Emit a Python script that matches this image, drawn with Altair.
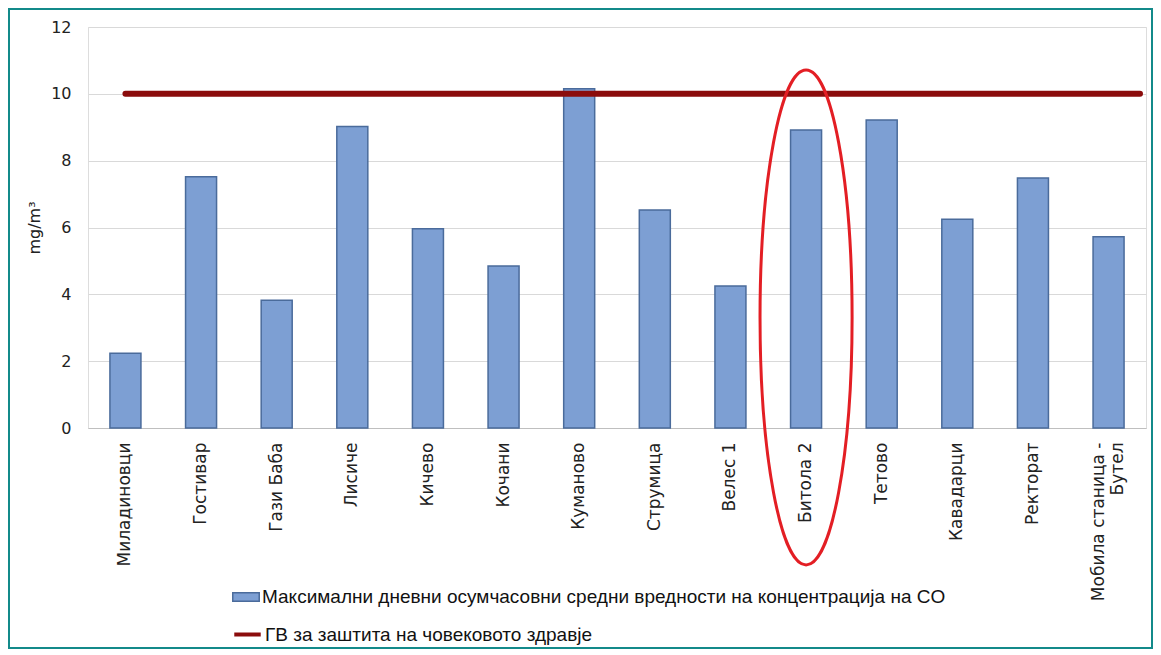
import altair as alt
import pandas as pd

stations = ["Миладиновци", "Гостивар", "Гази Баба", "Лисиче", "Кичево", "Кочани",
            "Куманово", "Струмица", "Велес 1", "Битола 2", "Тетово", "Кавадарци",
            "Ректорат", "Мобила станица - Бутел"]
values = [2.24, 7.52, 3.82, 9.02, 5.96, 4.85, 10.15, 6.52, 4.25, 8.92, 9.22, 6.25, 7.48, 5.72]

bar_label = "Максимални дневни  осумчасовни средни вредности  на концентрација на CO"
line_label = "ГВ за заштита на човековото  здравје"
limit_value = [10]
highlight_station = ["Битола 2"]
highlight_center = [3.31]

bars_df = pd.DataFrame({"station": stations, "value": values, "series": [bar_label] * len(stations)})
line_df = pd.DataFrame({"station": [stations[0]], "value": limit_value, "series": [line_label]})
ell_df = pd.DataFrame({"station": highlight_station, "value": highlight_center})
frame_df = pd.DataFrame({"k": [0]})

W, H = 1058, 401

xscale = alt.Scale(domain=stations, paddingInner=0.59, paddingOuter=0.29)
yscale = alt.Scale(domain=[0, 12])

x_axis = alt.Axis(title=None, labelAngle=-90, labelAlign="right", labelBaseline="middle",
                  ticks=False, domainColor="#bfbfbf", labelPadding=14, labelFont="DejaVu Sans",
                  labelFontSize=17, labelColor="#222", labelLimit=0,
                  labelOffset={"condition": {"test": "datum.value == 'Мобила станица - Бутел'", "value": -10},
                               "value": 0},
                  labelExpr="datum.label == 'Мобила станица - Бутел' ? ['Мобила станица -', 'Бутел'] : datum.label")
y_axis = alt.Axis(title="mg/m³", values=[0, 2, 4, 6, 8, 10, 12], ticks=False, domain=False,
                  gridColor="#d9d9d9", labelPadding=17, labelFont="DejaVu Sans", labelFontSize=16,
                  labelColor="#222", titleFont="DejaVu Sans", titleFontSize=16, titleFontWeight="normal",
                  titleColor="#222", titlePadding=8)

legend_common = dict(title=None, orient="none", legendX=144, labelFont="Liberation Sans",
                     labelFontSize=19, labelColor="#111", labelLimit=0, labelOffset=2, padding=0)

bars = alt.Chart(bars_df).mark_bar(stroke="#4a6b9b", strokeWidth=1.5).encode(
    x=alt.X("station:N", scale=xscale, axis=x_axis, sort=stations),
    y=alt.Y("value:Q", scale=yscale, axis=y_axis),
    color=alt.Color("series:N", scale=alt.Scale(domain=[bar_label], range=["#7d9fd3"]),
                    legend=alt.Legend(legendY=556, symbolType="M-1,-0.32H1V0.32H-1Z", symbolSize=700,
                                      symbolStrokeColor="#4a6b9b", symbolStrokeWidth=1.5,
                                      **legend_common)),
)

line = alt.Chart(line_df).mark_rule(strokeWidth=6, strokeCap="round").encode(
    x=alt.X("station:N", scale=xscale, sort=stations),
    x2=alt.value(1052),
    y=alt.Y("value:Q", scale=yscale),
    color=alt.Color("series:N", scale=alt.Scale(domain=[line_label], range=["#8b0c0c"]),
                    legend=alt.Legend(legendY=592, symbolType="stroke", symbolSize=700,
                                      symbolStrokeWidth=4, **legend_common)),
)

ellipse = alt.Chart(ell_df).mark_point(
    shape="M-0.186,0A0.186,1,0,1,0,0.186,0A0.186,1,0,1,0,-0.186,0Z",
    filled=False, stroke="#e31e24", strokeWidth=3, opacity=1,
).encode(
    x=alt.X("station:N", scale=xscale, sort=stations),
    y=alt.Y("value:Q", scale=yscale),
    size=alt.value(245025),
)

frame = alt.Chart(frame_df).mark_rect(fill="white", fillOpacity=0, stroke="#138a8a", strokeWidth=2).encode(
    x=alt.value(-79), x2=alt.value(1064), y=alt.value(-18), y2=alt.value(621)
)

chart = alt.layer(bars, line, ellipse, frame).resolve_scale(color="independent").properties(
    width=W, height=H,
    autosize=alt.AutoSizeParams(type="none"),
    padding={"left": 80, "top": 19, "right": 7, "bottom": 222},
).configure_view(stroke=None).configure(background="white")

chart.save("out.html", embed_options={"renderer": "svg", "actions": False})
